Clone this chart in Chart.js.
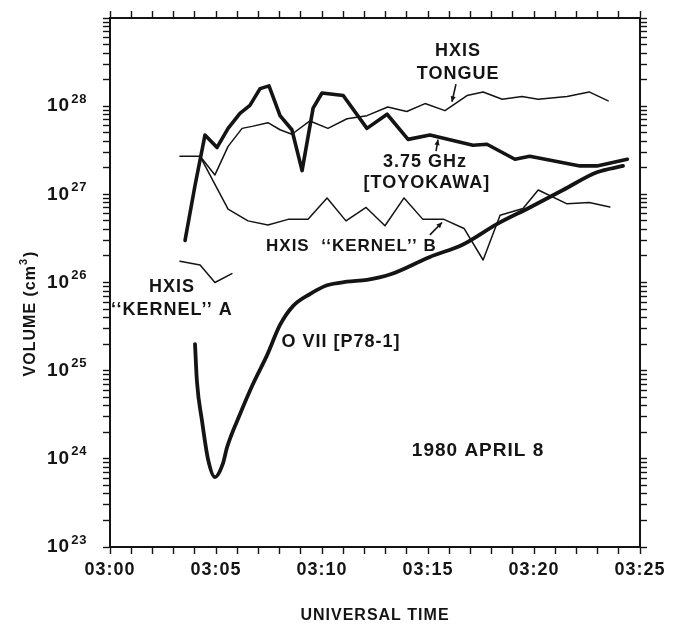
<!DOCTYPE html>
<html>
<head>
<meta charset="utf-8">
<script src="https://cdn.jsdelivr.net/npm/chart.js@4.4.1/dist/chart.umd.min.js"></script>
<style>
  html, body { margin: 0; padding: 0; background: #fff; }
  canvas { display: block; }
</style>
</head>
<body>
<canvas id="volChart" width="683" height="626"></canvas>
<script>
// minutes after 03:00 UT, volumes in cm^3
const radioMin = [3.54, 4.01, 4.48, 5.05, 5.57, 6.13, 6.60, 7.08, 7.50, 8.02, 8.58, 9.06, 9.58, 10.0, 11.0, 12.12, 13.07, 14.06, 15.09, 17.12, 17.78, 19.1, 19.8, 22.17, 22.97, 24.4];
const radioVol = [3.0e26, 1.26e27, 4.7e27, 3.4e27, 5.6e27, 8.3e27, 1.02e28, 1.58e28, 1.7e28, 7.8e27, 5.4e27, 1.86e27, 9.5e27, 1.41e28, 1.32e28, 5.6e27, 8.1e27, 4.2e27, 4.7e27, 3.6e27, 3.7e27, 2.5e27, 2.7e27, 2.1e27, 2.1e27, 2.5e27];

const tongueMin = [4.25, 4.95, 5.57, 6.23, 6.70, 7.45, 8.02, 8.58, 9.43, 10.28, 11.18, 12.12, 13.1, 14.0, 14.86, 15.8, 16.84, 17.6, 18.5, 19.43, 20.2, 21.56, 22.6, 23.5];
const tongueVol = [2.7e27, 1.66e27, 3.5e27, 5.6e27, 5.9e27, 6.5e27, 5.4e27, 4.8e27, 6.8e27, 5.6e27, 7.2e27, 7.8e27, 9.8e27, 8.7e27, 1.07e28, 8.9e27, 1.32e28, 1.45e28, 1.2e28, 1.29e28, 1.2e28, 1.29e28, 1.45e28, 1.15e28];

const kernelBMin = [3.30, 4.25, 5.57, 6.51, 7.45, 8.40, 9.34, 10.24, 11.13, 12.08, 12.97, 13.87, 14.76, 15.75, 16.7, 17.6, 18.4, 19.48, 20.2, 21.56, 22.6, 23.58];
const kernelBVol = [2.7e27, 2.7e27, 6.8e26, 5.0e26, 4.5e26, 5.2e26, 5.2e26, 9.1e26, 5.0e26, 7.1e26, 4.4e26, 9.1e26, 5.2e26, 5.2e26, 4.1e26, 1.8e26, 5.8e26, 6.9e26, 1.12e27, 7.8e26, 8.1e26, 7.2e26];

const kernelAMin = [3.30, 4.25, 4.95, 5.75];
const kernelAVol = [1.74e26, 1.58e26, 1.0e26, 1.26e26];

const oviiMin = [4.01, 4.10, 4.34, 4.62, 4.95, 5.33, 5.52, 6.13, 6.75, 7.41, 8.02, 8.63, 9.43, 10.24, 11.18, 12.12, 13.2, 15.09, 16.65, 18.25, 19.8, 21.37, 22.97, 24.2];
const oviiVol = [2.0e25, 7.6e24, 2.7e24, 1.0e24, 6.2e23, 8.9e23, 1.35e24, 3.2e24, 7.1e24, 1.5e25, 3.3e25, 5.4e25, 7.4e25, 9.3e25, 1.02e26, 1.07e26, 1.23e26, 1.95e26, 2.7e26, 4.6e26, 7.1e26, 1.12e27, 1.78e27, 2.1e27];

// axis ticks
const xTickLabels = ["03:00", "03:05", "03:10", "03:15", "03:20", "03:25"];
const xMinuteTicks = [0, 1, 2, 3, 4, 5, 6, 7, 8, 9, 10, 11, 12, 13, 14, 15, 16, 17, 18, 19, 20, 21, 22, 23, 24, 25];
const yDecades = [23, 24, 25, 26, 27, 28];
const yMinorSteps = [1, 2, 3, 4, 5, 6, 7, 8, 9];

const INK = "#141414";
const FONT = "'Liberation Sans', Arial, sans-serif";

function pairs(xs, ys) {
    return xs.map((x, i) => ({ x: x, y: ys[i] }));
}

function logTicks(scale) {
    const ticks = [];
    yDecades.forEach(d => {
        yMinorSteps.forEach(s => ticks.push({ value: s * Math.pow(10, d) }));
    });
    ticks.push({ value: 1e29 });
    scale.ticks = ticks;
}

function minuteTicks(scale) {
    scale.ticks = xMinuteTicks.map(v => ({ value: v }));
}

// text notes placed in data units: minute, log10(volume)
const notes = [
    { text: "HXIS", m: 16.42, e: 28.62, align: "center", size: 18 },
    { text: "TONGUE", m: 16.42, e: 28.37, align: "center", size: 18 },
    { text: "3.75 GHz", m: 14.86, e: 27.37, align: "center", size: 18 },
    { text: "[TOYOKAWA]", m: 14.95, e: 27.13, align: "center", size: 18 },
    { text: "HXIS  \u2018\u2018KERNEL\u2019\u2019 B", m: 7.36, e: 26.41, align: "left", size: 17 },
    { text: "HXIS", m: 2.92, e: 25.95, align: "center", size: 18 },
    { text: "\u2018\u2018KERNEL\u2019\u2019 A", m: 2.92, e: 25.69, align: "center", size: 18 },
    { text: "O VII [P78-1]", m: 10.9, e: 25.32, align: "center", size: 18 },
    { text: "1980 APRIL 8", m: 17.36, e: 24.09, align: "center", size: 19 }
];
// pointer arrows: from label to curve (head at curve end)
const arrows = [
    { m0: 16.32, e0: 28.25, m1: 16.13, e1: 28.05 },
    { m0: 15.38, e0: 27.49, m1: 15.47, e1: 27.62 },
    { m0: 15.09, e0: 26.54, m1: 15.66, e1: 26.68 }
];

const annotate = {
    id: "annotate",
    beforeDraw(chart) {
        chart.ctx.letterSpacing = "1px";
    },
    afterDraw(chart) {
        const ctx = chart.ctx;
        const xs = chart.scales.x, ys = chart.scales.y;
        ctx.save();
        ctx.fillStyle = INK;
        ctx.strokeStyle = INK;
        ctx.textBaseline = "middle";

        notes.forEach(n => {
            ctx.font = "bold " + n.size + "px " + FONT;
            ctx.textAlign = n.align;
            ctx.fillText(n.text, xs.getPixelForValue(n.m), ys.getPixelForValue(Math.pow(10, n.e)));
        });

        ctx.lineWidth = 1.6;
        arrows.forEach(a => {
            const x0 = xs.getPixelForValue(a.m0), y0 = ys.getPixelForValue(Math.pow(10, a.e0));
            const x1 = xs.getPixelForValue(a.m1), y1 = ys.getPixelForValue(Math.pow(10, a.e1));
            ctx.beginPath();
            ctx.moveTo(x0, y0);
            ctx.lineTo(x1, y1);
            ctx.stroke();
            const ang = Math.atan2(y1 - y0, x1 - x0);
            ctx.beginPath();
            ctx.moveTo(x1, y1);
            ctx.lineTo(x1 - 6 * Math.cos(ang - 0.45), y1 - 6 * Math.sin(ang - 0.45));
            ctx.lineTo(x1 - 6 * Math.cos(ang + 0.45), y1 - 6 * Math.sin(ang + 0.45));
            ctx.closePath();
            ctx.fill();
        });

        // y tick labels 10^n
        yDecades.forEach(d => {
            const py = ys.getPixelForValue(Math.pow(10, d));
            ctx.textAlign = "left";
            ctx.font = "bold 19px " + FONT;
            const baseW = ctx.measureText("10").width;
            const left = 47;
            ctx.fillText("10", left, py);
            ctx.font = "bold 13px " + FONT;
            ctx.fillText(String(d), left + baseW + 1, py - 7);
        });

        // y axis title
        ctx.save();
        ctx.translate(31, 314);
        ctx.rotate(-Math.PI / 2);
        ctx.font = "bold 16px " + FONT;
        const t1 = "VOLUME (cm";
        const w1 = ctx.measureText(t1).width;
        ctx.font = "bold 11px " + FONT;
        const w2 = ctx.measureText("3").width;
        ctx.font = "bold 16px " + FONT;
        const w3 = ctx.measureText(")").width;
        let sx = -(w1 + w2 + w3) / 2;
        ctx.textAlign = "left";
        ctx.fillText(t1, sx, 0);
        ctx.font = "bold 11px " + FONT;
        ctx.fillText("3", sx + w1, -7);
        ctx.font = "bold 16px " + FONT;
        ctx.fillText(")", sx + w1 + w2 + 1, 0);
        ctx.restore();

        // x axis title
        ctx.font = "bold 16px " + FONT;
        ctx.textAlign = "center";
        ctx.fillText("UNIVERSAL TIME", 375, 616);
        ctx.restore();
    }
};

function axisGrid() {
    return { drawOnChartArea: false, drawTicks: true, tickLength: 7, tickColor: INK, tickWidth: 1.4 };
}

const ctx = document.getElementById("volChart").getContext("2d");
new Chart(ctx, {
    type: "line",
    data: {
        datasets: [
            { label: "3.75 GHz [TOYOKAWA]", data: pairs(radioMin, radioVol), borderColor: INK, borderWidth: 3.6, tension: 0 },
            { label: "HXIS TONGUE", data: pairs(tongueMin, tongueVol), borderColor: INK, borderWidth: 1.5, tension: 0 },
            { label: "HXIS KERNEL B", data: pairs(kernelBMin, kernelBVol), borderColor: INK, borderWidth: 1.5, tension: 0 },
            { label: "HXIS KERNEL A", data: pairs(kernelAMin, kernelAVol), borderColor: INK, borderWidth: 1.5, tension: 0 },
            { label: "O VII [P78-1]", data: pairs(oviiMin, oviiVol), borderColor: INK, borderWidth: 3.8, cubicInterpolationMode: "monotone" }
        ]
    },
    options: {
        responsive: false,
        animation: false,
        events: [],
        layout: { padding: 0 },
        elements: { point: { radius: 0 }, line: { borderJoinStyle: "round", borderCapStyle: "round" } },
        plugins: { legend: { display: false }, tooltip: { enabled: false } },
        scales: {
            x: {
                type: "linear", position: "bottom", min: 0, max: 25,
                afterBuildTicks: minuteTicks,
                afterFit: s => { s.height = 79; },
                grid: axisGrid(),
                border: { color: INK, width: 2 },
                ticks: {
                    autoSkip: false, maxRotation: 0, padding: 5, color: INK,
                    font: { family: FONT, size: 18, weight: "bold" },
                    callback: v => (v % 5 === 0 ? xTickLabels[v / 5] : "")
                }
            },
            xTop: {
                type: "linear", position: "top", min: 0, max: 25,
                afterBuildTicks: minuteTicks,
                afterFit: s => { s.height = 18; },
                grid: axisGrid(),
                border: { color: INK, width: 2 },
                ticks: { display: false }
            },
            y: {
                type: "logarithmic", position: "left", min: 1e23, max: 1e29,
                afterBuildTicks: logTicks,
                afterFit: s => { s.width = 110; },
                grid: axisGrid(),
                border: { color: INK, width: 2 },
                ticks: { display: false }
            },
            yRight: {
                type: "logarithmic", position: "right", min: 1e23, max: 1e29,
                afterBuildTicks: logTicks,
                afterFit: s => { s.width = 43; },
                grid: axisGrid(),
                border: { color: INK, width: 2 },
                ticks: { display: false }
            }
        }
    },
    plugins: [annotate]
});
</script>
</body>
</html>
